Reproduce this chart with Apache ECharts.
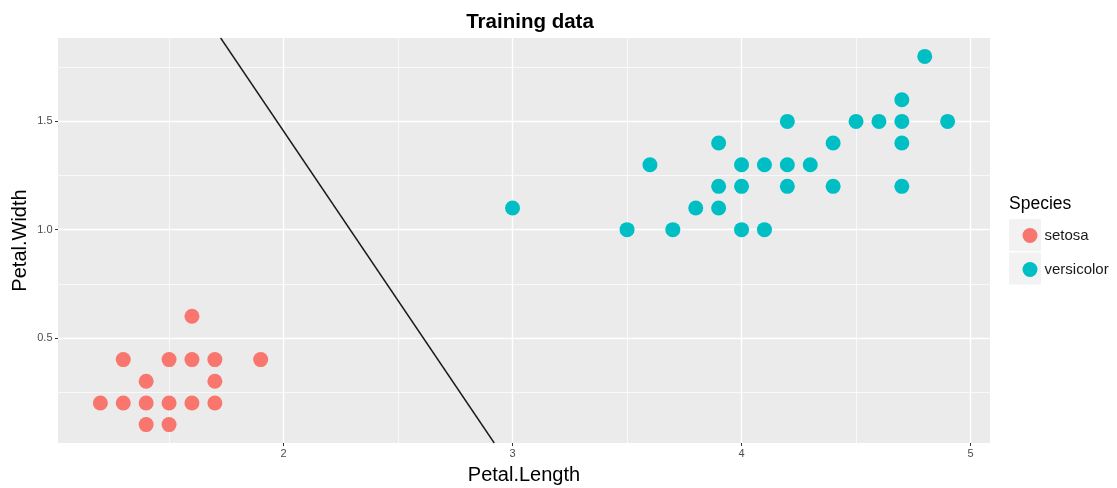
<!DOCTYPE html>
<html>
<head>
<meta charset="utf-8">
<script src="https://cdn.jsdelivr.net/npm/echarts@6/dist/echarts.min.js"></script>
<style>
  html, body { margin: 0; padding: 0; background: #fff; }
  #chart { width: 1117px; height: 488px; }
</style>
</head>
<body>
<div id="chart"></div>
<script>
// == Data ====================================================================

const setosaLength = [1.6, 1.3, 1.5, 1.6, 1.7, 1.9, 1.4, 1.7, 1.2, 1.3, 1.4, 1.5, 1.6, 1.7, 1.4, 1.5]
const setosaWidth = [0.6, 0.4, 0.4, 0.4, 0.4, 0.4, 0.3, 0.3, 0.2, 0.2, 0.2, 0.2, 0.2, 0.2, 0.1, 0.1]

const versicolorLength = [4.8, 4.7, 4.2, 4.5, 4.6, 4.7, 4.9, 3.9, 4.4, 4.7, 3.6, 4.0, 4.1, 4.2, 4.3,
  3.9, 4.0, 4.2, 4.4, 4.7, 3.0, 3.8, 3.9, 3.5, 3.7, 4.0, 4.1]
const versicolorWidth = [1.8, 1.6, 1.5, 1.5, 1.5, 1.5, 1.5, 1.4, 1.4, 1.4, 1.3, 1.3, 1.3, 1.3, 1.3,
  1.2, 1.2, 1.2, 1.2, 1.2, 1.1, 1.1, 1.1, 1.0, 1.0, 1.0, 1.0]

// decision boundary: width = intercept + slope * length
const boundaryIntercept = 4.585
const boundarySlope = -1.565

const xLimits = [1.015, 5.085]
const yLimits = [0.015, 1.885]
const xMajor = [2, 3, 4, 5]
const xMinor = [1.5, 2.5, 3.5, 4.5]
const yMajor = [0.5, 1.0, 1.5]
const yMinor = [0.25, 0.75, 1.25, 1.75]

// == Chart ===================================================================

const zip = (xs, ys) => xs.map((x, i) => [x, ys[i]])
const boundary = yLimits.map(y => [(y - boundaryIntercept) / boundarySlope, y])

const font = '"Liberation Sans", Arial, sans-serif'
const tickLabel = {color: '#4D4D4D', fontSize: 11, fontFamily: font}
const titleText = {fontSize: 20, color: '#000', fontFamily: font}

function axis (dim, limits, major, minor, isMinor) {
  const vals = isMinor ? minor : major
  return {
    type: 'value',
    min: limits[0],
    max: limits[1],
    axisLine: {show: false},
    axisTick: {show: !isMinor, length: 3, lineStyle: {color: '#333333', width: 1}, customValues: vals},
    axisLabel: Object.assign({
      show: !isMinor,
      margin: dim === 'x' ? 5 : 5.5,
      customValues: vals,
      formatter: v => dim === 'y' ? v.toFixed(1) : String(v)
    }, tickLabel),
    splitLine: {show: true, lineStyle: {color: '#FFFFFF', width: isMinor ? 0.7 : 1.4}},
    z: isMinor ? 0 : 1
  }
}

const xMain = Object.assign(axis('x', xLimits, xMajor, xMinor, false), {
  name: 'Petal.Length', nameLocation: 'middle', nameGap: 22.5, nameTextStyle: titleText
})
const yMain = Object.assign(axis('y', yLimits, yMajor, yMinor, false), {
  name: 'Petal.Width', nameLocation: 'middle', nameGap: 28, nameMoveOverlap: false, nameTextStyle: titleText
})

const option = {
  animation: false,
  title: {
    text: 'Training data',
    left: 525, top: 7, textAlign: 'center',
    textStyle: {fontSize: 20.5, fontWeight: 'bold', color: '#000', fontFamily: font}
  },
  grid: {
    left: 58, right: 127, top: 38, bottom: 45,
    outerBoundsMode: 'none', containLabel: false,
    show: true, backgroundColor: '#EBEBEB', borderWidth: 0
  },
  xAxis: [xMain, axis('x', xLimits, xMajor, xMinor, true)],
  yAxis: [yMain, axis('y', yLimits, yMajor, yMinor, true)],
  legend: {
    orient: 'vertical', left: 1017.5, top: 223, itemWidth: 15, itemHeight: 15, itemGap: 19,
    icon: 'circle',
    textStyle: {fontSize: 15, lineHeight: 15, color: '#1A1A1A', fontFamily: font, padding: [0, 0, 0, 2]},
    data: ['setosa', 'versicolor']
  },
  graphic: [
    {type: 'text', left: 1009, top: 195, style: {text: 'Species', fontSize: 17.5, fill: '#000', fontFamily: font}},
    {type: 'rect', left: 1009, top: 219, shape: {width: 32, height: 32}, style: {fill: '#F2F2F2'}, z: -1},
    {type: 'rect', left: 1009, top: 252.5, shape: {width: 32, height: 32}, style: {fill: '#F2F2F2'}, z: -1}
  ],
  series: [
    {
      name: 'setosa', type: 'scatter', symbolSize: 15,
      itemStyle: {color: '#F8766D', opacity: 1}, data: zip(setosaLength, setosaWidth), z: 3
    },
    {
      name: 'versicolor', type: 'scatter', symbolSize: 15,
      itemStyle: {color: '#00BFC4', opacity: 1}, data: zip(versicolorLength, versicolorWidth), z: 3
    },
    {
      name: 'boundary', type: 'line', symbol: 'none', silent: true, clip: true,
      lineStyle: {color: '#1A1A1A', width: 1.4}, data: boundary, z: 4
    }
  ]
}

echarts.init(document.getElementById('chart')).setOption(option)
</script>
</body>
</html>
